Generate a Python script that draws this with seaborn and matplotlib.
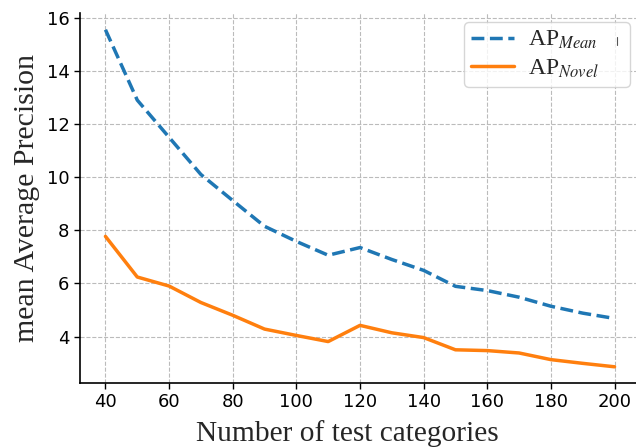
import matplotlib
matplotlib.use("Agg")
import matplotlib.pyplot as plt
from matplotlib.lines import Line2D
import seaborn as sns
import pandas as pd

categories = [40, 50, 60, 70, 80, 90, 100, 110, 120, 130, 140, 150, 160, 170, 180, 190, 200]
ap_mean = [15.55, 12.9, 11.5, 10.1, 9.12, 8.15, 7.58, 7.06, 7.35, 6.9, 6.49, 5.89, 5.73, 5.48, 5.14, 4.88, 4.68]
ap_novel = [7.77, 6.24, 5.9, 5.28, 4.8, 4.28, 4.04, 3.81, 4.42, 4.14, 3.96, 3.5, 3.47, 3.38, 3.13, 2.99, 2.86]
xticks = [40, 60, 80, 100, 120, 140, 160, 180, 200]
yticks = [4, 6, 8, 10, 12, 14, 16]

sns.set_style("ticks")
plt.rcParams['mathtext.fontset'] = 'stix'
plt.rcParams['font.family'] = ['DejaVu Sans']

df = pd.DataFrame({"cat": categories * 2,
                   "val": ap_mean + ap_novel,
                   "series": ["mean"] * len(categories) + ["novel"] * len(categories)})

fig = plt.figure(figsize=(6.36, 4.47), dpi=100)
ax = fig.add_axes([80/636, 64/447, 560/636, 370/447])

sns.lineplot(data=df[df.series == "mean"], x="cat", y="val", ax=ax, color="#1f77b4",
             linestyle="--", linewidth=2.5, label=r"AP$_{Mean}$" + "     ")
sns.lineplot(data=df[df.series == "novel"], x="cat", y="val", ax=ax, color="#ff7f0e",
             linestyle="-", linewidth=2.5, label=r"AP$_{Novel}$")

ax.set_xticks(xticks)
ax.set_yticks(yticks)
ax.tick_params(axis="both", labelsize=13, length=4, width=1, colors="black")
ax.set_xlim(32, 208)
ax.set_ylim(2.25, 16.18)
ax.grid(True, linestyle="--", color="#bbbbbb", linewidth=0.8)
ax.set_axisbelow(True)
for s in ["top", "right"]:
    ax.spines[s].set_visible(False)
for s in ["left", "bottom"]:
    ax.spines[s].set_color("black")
    ax.spines[s].set_linewidth(1.2)

ax.set_xlabel("Number of test categories", fontsize=21.2, family="Liberation Serif")
ax.xaxis.set_label_coords((347.5 - 80) / 560, -37 / 370)
ax.set_ylabel("mean Average Precision", fontsize=21.5, family="Liberation Serif", labelpad=5)

leg = ax.legend(loc="upper right", prop={"family": "Liberation Serif", "size": 17},
                frameon=True, borderpad=0.3, handlelength=1.8, handletextpad=0.6,
                labelspacing=0.25, borderaxespad=0.0,
                bbox_to_anchor=(550/560, 1.0 - 9/370))

# small stray vertical tick seen inside the legend of the reference
fig.add_artist(Line2D([617/636, 617/636], [1 - 37/447, 1 - 45/447],
                      transform=fig.transFigure, color="#555555", linewidth=0.8))

fig.savefig("out.png", dpi=100)
